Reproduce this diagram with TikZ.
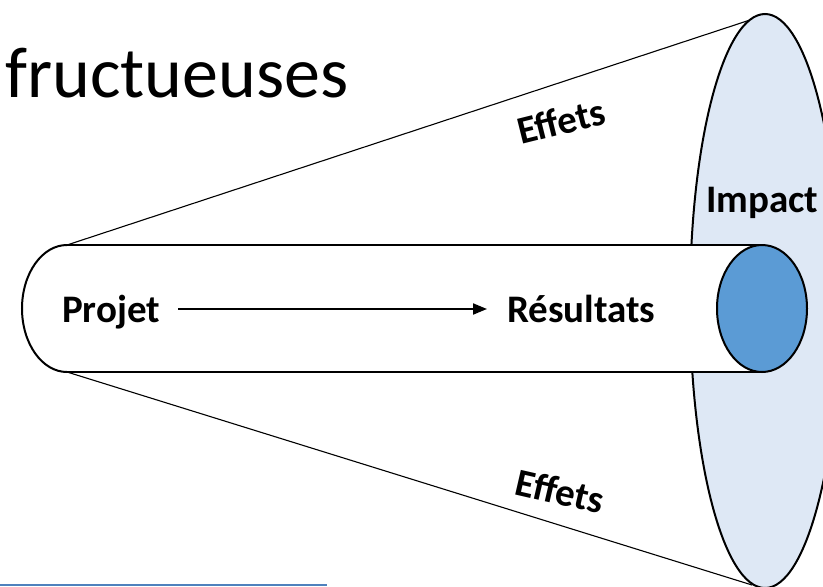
\documentclass[tikz,border=0pt]{standalone}
\usepackage{fontspec}
\setmainfont{Carlito}
\usetikzlibrary{arrows.meta}
\definecolor{impactfill}{HTML}{DEE8F5}
\definecolor{resfill}{HTML}{5B9BD5}
\definecolor{rulecol}{HTML}{4F81BD}
\tikzset{
  cone/.style={line width=1.1pt, black},
  thickline/.style={line width=2pt, black},
  lbl/.style={inner sep=0pt, font=\bfseries\fontsize{39}{41}\selectfont},
  arrowline/.style={line width=2pt, -{Triangle[length=14pt,width=11pt]}}
}
\begin{document}
\begin{tikzpicture}[x=1pt,y=-1pt]
\useasboundingbox (0,0) rectangle (823,587);
% title fragment
\node[inner sep=0pt, anchor=base west, font=\fontsize{72}{76}\selectfont] (title) at (5,97) {fructueuses};
% cone lines
\coordinate (cl1) at (67,245);
\coordinate (cl2) at (67,372);
\coordinate (ct) at (750,20);
\coordinate (cb) at (752,585);
\draw[cone] (cl1) -- (ct);
\draw[cone] (cl2) -- (cb);
% big impact ellipse
\draw[thickline, fill=impactfill] (765,301) ellipse [x radius=75, y radius=287];
% cylinder body
\fill[white] (67,245) -- (762,245) -- (762,372) -- (67,372) arc[start angle=90, end angle=270, x radius=45, y radius=63.5] -- cycle;
\draw[line width=1.3pt] (67,245) -- (762,245);
\draw[line width=1.3pt] (67,372) -- (762,372);
\draw[thickline] (67,245) arc[start angle=270, end angle=90, x radius=45, y radius=63.5];
% result ellipse
\draw[thickline, fill=resfill] (762,308.5) ellipse [x radius=45, y radius=63.5];
% labels
\node[lbl, anchor=base west] (projet) at (62,322) {Projet};
\node[lbl, anchor=base west] (resultats) at (507,322) {Résultats};
\node[lbl, anchor=base west] (impact) at (706,212) {Impact};
\node[lbl, rotate=14] (effets1) at (561,121) {Effets};
\node[lbl, rotate=-13] (effets2) at (560,491) {Effets};
% arrow
\draw[arrowline] ([xshift=18pt,yshift=13pt]projet.base east) -- ([xshift=-20pt,yshift=13pt]resultats.base west);
% bottom rule
\draw[rulecol, line width=2pt] (0,585) -- (327,585);
\end{tikzpicture}
\end{document}
